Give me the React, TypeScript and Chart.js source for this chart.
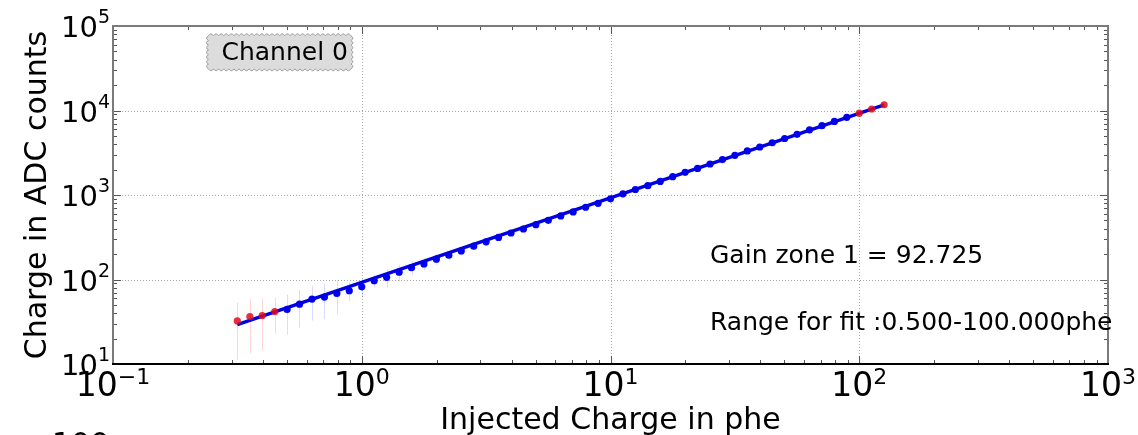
import React, { useEffect, useRef } from 'react';
import Chart from 'chart.js/auto';

const FONT = '"DejaVu Sans", Verdana, sans-serif';

// injected charge (phe), measured charge (ADC counts) and its error
const injected = [
  0.316, 0.355, 0.398, 0.447, 0.501, 0.562, 0.631, 0.708, 0.794, 0.891,
  1.0, 1.122, 1.259, 1.413, 1.585, 1.778, 1.995, 2.239, 2.512, 2.818,
  3.162, 3.548, 3.981, 4.467, 5.012, 5.623, 6.31, 7.079, 7.943, 8.913,
  10.0, 11.22, 12.59, 14.13, 15.85, 17.78, 19.95, 22.39, 25.12, 28.18,
  31.62, 35.48, 39.81, 44.67, 50.12, 56.23, 63.1, 70.79, 79.43, 89.13,
  100.0, 112.2, 125.9,
];
const adcCounts = [
  32.3, 36.5, 37.5, 41.8, 44.2, 51, 58.6, 62, 68.5, 73.6,
  82, 96.8, 106, 122, 138, 153, 174, 194, 218, 248,
  279, 315, 355, 396, 446, 502, 565, 631, 716, 798,
  901, 1033, 1161, 1288, 1449, 1648, 1854, 2065, 2327, 2625,
  2951, 3319, 3700, 4150, 4660, 5220, 5900, 6620, 7420, 8300,
  9300, 10420, 11700,
];
const adcErrors = [
  21, 23, 23, 19, 22, 24, 26, 28, 30, 18,
  20, 16, 26, 28, 26, 25, 25, 25, 25, 25,
  25, 25, 25, 25, 25, 25, 25, 25, 25, 25,
  25, 25, 25, 25, 25, 25, 25, 25, 25, 25,
  25, 25, 25, 25, 25, 25, 25, 25, 25, 25,
  25, 25, 25,
];

const GAIN = 92.725;
const FIT_MIN = 0.5;
const FIT_MAX = 100;

const xDecades = [-1, 0, 1, 2, 3];
const yDecades = [1, 2, 3, 4, 5];

const inFit = (x: number) => x >= FIT_MIN && x < FIT_MAX;

const supText = (e: number) => (e < 0 ? '\u2212' + Math.abs(e) : String(e));

// matplotlib-like "roundtooth" box outline
function wavyBox(ctx: CanvasRenderingContext2D, l: number, t: number, r: number, b: number) {
  const edges: [number, number, number, number][] = [
    [l, t, r, t],
    [r, t, r, b],
    [r, b, l, b],
    [l, b, l, t],
  ];
  ctx.beginPath();
  ctx.moveTo(l, t);
  edges.forEach(([x0, y0, x1, y1]) => {
    const len = Math.hypot(x1 - x0, y1 - y0);
    const n = Math.max(2, Math.round(len / 5));
    const dx = (x1 - x0) / n;
    const dy = (y1 - y0) / n;
    const seg = len / n;
    const nx = dy / seg;
    const ny = -dx / seg;
    for (let i = 0; i < n; i++) {
      const sx = x0 + dx * i;
      const sy = y0 + dy * i;
      ctx.quadraticCurveTo(sx + dx / 2 + nx * 4, sy + dy / 2 + ny * 4, sx + dx, sy + dy);
    }
  });
  ctx.closePath();
}

const framePlugin = {
  id: 'frame',
  beforeDatasetsDraw(chart: any) {
    const { ctx, chartArea: a, scales } = chart;
    const xs = scales.x;
    const ys = scales.y;
    ctx.save();

    // dotted grid at decades
    ctx.strokeStyle = '#a8a8a8';
    ctx.lineWidth = 1;
    ctx.setLineDash([1, 2]);
    xDecades.forEach((e) => {
      const px = Math.round(xs.getPixelForValue(10 ** e)) + 0.5;
      if (px <= a.left + 2 || px >= a.right - 2) return;
      ctx.beginPath();
      ctx.moveTo(px, a.top);
      ctx.lineTo(px, a.bottom);
      ctx.stroke();
    });
    yDecades.forEach((e) => {
      const py = Math.round(ys.getPixelForValue(10 ** e)) + 0.5;
      if (py <= a.top + 2 || py >= a.bottom - 2) return;
      ctx.beginPath();
      ctx.moveTo(a.left, py);
      ctx.lineTo(a.right, py);
      ctx.stroke();
    });
    ctx.setLineDash([]);

    // faint error bars
    ctx.lineWidth = 1;
    injected.forEach((x, i) => {
      ctx.strokeStyle = inFit(x) ? 'rgba(0,0,255,0.14)' : 'rgba(255,0,0,0.16)';
      const px = Math.round(xs.getPixelForValue(x)) + 0.5;
      const hi = ys.getPixelForValue(adcCounts[i] + adcErrors[i]);
      const lo = ys.getPixelForValue(Math.max(adcCounts[i] - adcErrors[i], 10));
      ctx.beginPath();
      ctx.moveTo(px, hi);
      ctx.lineTo(px, Math.min(lo, a.bottom));
      ctx.stroke();
    });
    ctx.restore();
  },
  afterDatasetsDraw(chart: any) {
    const { ctx, chartArea: a, scales } = chart;
    const xs = scales.x;
    const ys = scales.y;
    ctx.save();

    // tick marks, inside, on all four sides
    ctx.strokeStyle = '#555';
    ctx.lineWidth = 1;
    const xTick = (v: number, len: number) => {
      const px = Math.round(xs.getPixelForValue(v)) + 0.5;
      ctx.beginPath();
      ctx.moveTo(px, a.bottom);
      ctx.lineTo(px, a.bottom - len);
      ctx.moveTo(px, a.top);
      ctx.lineTo(px, a.top + len);
      ctx.stroke();
    };
    const yTick = (v: number, len: number) => {
      const py = Math.round(ys.getPixelForValue(v)) + 0.5;
      ctx.beginPath();
      ctx.moveTo(a.left, py);
      ctx.lineTo(a.left + len, py);
      ctx.moveTo(a.right, py);
      ctx.lineTo(a.right - len, py);
      ctx.stroke();
    };
    xDecades.forEach((e, i) => {
      xTick(10 ** e, 8);
      if (i < xDecades.length - 1) for (let m = 2; m < 10; m++) xTick(m * 10 ** e, 4);
    });
    yDecades.forEach((e, i) => {
      yTick(10 ** e, 8);
      if (i < yDecades.length - 1) for (let m = 2; m < 10; m++) yTick(m * 10 ** e, 4);
    });

    // spines
    ctx.lineWidth = 2;
    ctx.strokeStyle = '#7a7a7a';
    ctx.beginPath();
    ctx.moveTo(a.left, a.bottom);
    ctx.lineTo(a.left, a.top);
    ctx.lineTo(a.right, a.top);
    ctx.lineTo(a.right, a.bottom);
    ctx.stroke();
    ctx.strokeStyle = '#000';
    ctx.beginPath();
    ctx.moveTo(a.left - 1, a.bottom);
    ctx.lineTo(a.right + 1, a.bottom);
    ctx.stroke();

    // tick labels 10^n
    ctx.fillStyle = '#000';
    ctx.textAlign = 'left';
    ctx.textBaseline = 'alphabetic';
    xDecades.forEach((e) => {
      const px = xs.getPixelForValue(10 ** e);
      ctx.font = `33px ${FONT}`;
      const w10 = ctx.measureText('10').width;
      ctx.font = `22px ${FONT}`;
      const wExp = ctx.measureText(supText(e)).width;
      const start = px - (w10 + wExp) / 2;
      ctx.font = `33px ${FONT}`;
      ctx.fillText('10', start, a.bottom + 32);
      ctx.font = `22px ${FONT}`;
      ctx.fillText(supText(e), start + w10, a.bottom + 20);
    });
    yDecades.forEach((e) => {
      const py = ys.getPixelForValue(10 ** e);
      ctx.font = `29px ${FONT}`;
      const w10 = ctx.measureText('10').width;
      ctx.font = `19px ${FONT}`;
      const wExp = ctx.measureText(supText(e)).width;
      const start = a.left - 3 - (w10 + wExp);
      ctx.font = `29px ${FONT}`;
      ctx.fillText('10', start, py + 11);
      ctx.font = `19px ${FONT}`;
      ctx.fillText(supText(e), start + w10, py - 3);
    });

    // axis titles
    ctx.font = `30px ${FONT}`;
    ctx.textAlign = 'center';
    ctx.fillText('Injected Charge in phe', (a.left + a.right) / 2, a.bottom + 65);
    ctx.save();
    ctx.translate(46, (a.top + a.bottom) / 2);
    ctx.rotate(-Math.PI / 2);
    ctx.fillText('Charge in ADC counts', 0, 0);
    ctx.restore();

    // annotations in axes fractions
    const fx = (f: number) => a.left + f * (a.right - a.left);
    const fy = (f: number) => a.bottom - f * (a.bottom - a.top);
    ctx.font = `25px ${FONT}`;
    ctx.textAlign = 'left';
    ctx.fillText(`Gain zone 1 = ${GAIN.toFixed(3)}`, fx(0.6), fy(0.3));
    ctx.fillText(
      `Range for fit :${FIT_MIN.toFixed(3)}-${FIT_MAX.toFixed(3)}phe`,
      fx(0.6),
      fy(0.1)
    );

    // channel label box
    const label = 'Channel 0';
    const tx = fx(0.109);
    const ty = fy(0.9);
    const tw = ctx.measureText(label).width;
    ctx.fillStyle = '#dcdcdc';
    ctx.strokeStyle = '#a0a0a0';
    ctx.lineWidth = 1;
    wavyBox(ctx, tx - 13, ty - 24, tx + tw + 3, ty + 9);
    ctx.fill();
    ctx.stroke();
    ctx.fillStyle = '#000';
    ctx.fillText(label, tx, ty);

    // top of the next figure's label, cut off by the frame
    ctx.font = `30px ${FONT}`;
    ctx.fillText('100', 52, 454);

    ctx.restore();
  },
};

export default function App() {
  const canvasRef = useRef<HTMLCanvasElement>(null);

  useEffect(() => {
    const ctx = canvasRef.current?.getContext('2d');
    if (!ctx) return;

    const pts = injected.map((x, i) => ({ x, y: adcCounts[i], fit: inFit(x) }));
    const first = injected[0];
    const last = injected[injected.length - 1];

    const chart = new Chart(ctx, {
      type: 'scatter',
      data: {
        datasets: [
          {
            label: 'in fit range',
            data: pts.filter((p) => p.fit).map(({ x, y }) => ({ x, y })),
            backgroundColor: '#0000ff',
            borderColor: '#0000ff',
            pointRadius: 3.6,
            borderWidth: 0,
            order: 2,
          },
          {
            label: 'fit',
            data: [
              { x: first, y: GAIN * first },
              { x: last, y: GAIN * last },
            ],
            showLine: true,
            borderColor: '#0000e0',
            borderWidth: 3.4,
            pointRadius: 0,
            order: 1,
          },
          {
            label: 'outside fit range',
            data: pts.filter((p) => !p.fit).map(({ x, y }) => ({ x, y })),
            backgroundColor: 'rgba(225,10,30,0.85)',
            borderColor: 'rgba(225,10,30,0.85)',
            pointRadius: 3.6,
            borderWidth: 0,
            order: 0,
          },
        ],
      },
      options: {
        responsive: true,
        maintainAspectRatio: false,
        animation: false,
        layout: { padding: { left: 113, right: 30, top: 26, bottom: 71 } },
        plugins: {
          legend: { display: false },
          tooltip: { enabled: false },
        },
        scales: {
          x: { type: 'logarithmic', min: 0.1, max: 1000, display: false },
          y: { type: 'logarithmic', min: 10, max: 100000, display: false },
        },
      },
      plugins: [framePlugin],
    });

    return () => {
      chart.destroy();
    };
  }, []);

  return (
    <div style={{ position: 'fixed', left: 0, top: 0, width: 1138, height: 435, background: '#fff' }}>
      <canvas ref={canvasRef}></canvas>
    </div>
  );
}
